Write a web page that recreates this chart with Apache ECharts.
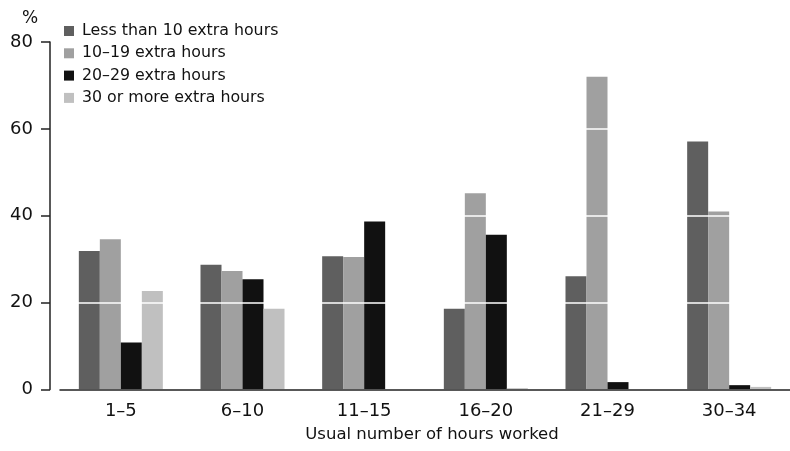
<!DOCTYPE html>
<html>
<head>
<meta charset="utf-8">
<script src="https://cdn.jsdelivr.net/npm/echarts@6/dist/echarts.min.js"></script>
<style>html,body{margin:0;padding:0;background:#fff}#c{width:790px;height:451px}</style>
</head>
<body>
<div id="c"></div>
<script>
const categories = ['1–5', '6–10', '11–15', '16–20', '21–29', '30–34'];
const seriesNames = ['Less than 10 extra hours', '10–19 extra hours', '20–29 extra hours', '30 or more extra hours'];
const lessThan10 = [31.9, 28.7, 30.7, 18.6, 26.1, 57.1];
const extra10to19 = [34.6, 27.3, 30.5, 45.2, 72.0, 41.0];
const extra20to29 = [10.8, 25.4, 38.7, 35.6, 1.7, 1.0];
const extra30plus = [22.7, 18.6, 0, 0.3, 0, 0.6];
const yTicks = [0, 20, 40, 60, 80];
const colors = ['#5f5f5f', '#a0a0a0', '#111111', '#c0c0c0'];

const font = 'DejaVu Sans';
const chart = echarts.init(document.getElementById('c'));
const dataSets = [lessThan10, extra10to19, extra20to29, extra30plus];
chart.setOption({
  animation: false,
  backgroundColor: '#fff',
  title: {
    text: '%', left: 17, top: 5,
    textStyle: { fontFamily: font, fontSize: 17, fontWeight: 'normal', color: '#111' }
  },
  legend: {
    orient: 'vertical', left: 59, top: 18,
    itemWidth: 10, itemHeight: 10, itemGap: 6.3,
    icon: 'rect',
    data: seriesNames,
    textStyle: { fontFamily: font, fontSize: 15.8, color: '#111', lineHeight: 16, padding: [0, 0, 0, 3] }
  },
  grid: { left: 60, right: 0, top: 42, bottom: 61.5, containLabel: false },
  xAxis: {
    type: 'category', data: categories, z: 11,
    axisLine: { lineStyle: { color: '#222', width: 1.5 } },
    axisTick: { alignWithLabel: true, length: 7, lineStyle: { color: '#222', width: 1.5 } },
    axisLabel: { fontFamily: font, fontSize: 18, color: '#111', margin: 13 },
    name: 'Usual number of hours worked', nameLocation: 'middle', nameGap: 37,
    nameTextStyle: { fontFamily: font, fontSize: 16.5, color: '#111', padding: [0, 0, 0, 14] }
  },
  yAxis: {
    type: 'value', min: yTicks[0], max: yTicks[yTicks.length - 1], interval: 20, offset: 10, z: 10,
    axisLine: { show: true, lineStyle: { color: '#222', width: 1.5 } },
    axisTick: { show: true, length: 9, lineStyle: { color: '#222', width: 1.5 } },
    axisLabel: { fontFamily: font, fontSize: 18, color: '#111', margin: 17 },
    splitLine: { show: true, lineStyle: { color: '#ffffff', width: 1.5 } }
  },
  series: seriesNames.map((n, i) => ({
    name: n, type: 'bar', data: dataSets[i],
    barWidth: 21, barGap: '0%',
    itemStyle: { color: colors[i] }
  }))
});
</script>
</body>
</html>
